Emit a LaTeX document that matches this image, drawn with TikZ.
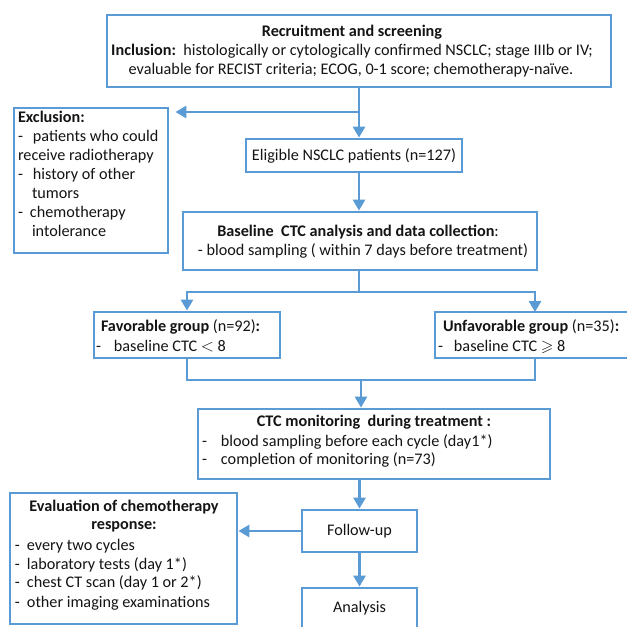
\documentclass[tikz,border=0pt]{standalone}
\usepackage{amssymb}
\usepackage{fontspec}
\setmainfont{Carlito}
\usetikzlibrary{arrows.meta}
\definecolor{flowblue}{HTML}{5B9BD5}
\definecolor{ink}{HTML}{141414}
\tikzset{
  box/.style={draw=flowblue, line width=2.8pt, fill=white, inner sep=0pt},
  conn/.style={draw=flowblue, line width=2.8pt, line join=miter},
  arr/.style={conn, -{Triangle[length=11pt,width=12pt]}},
  txt/.style={inner sep=0pt, outer sep=0pt, text=ink, font=\fontsize{16.2}{19}\selectfont},
  lt/.style={txt, anchor=base west},
  ct/.style={txt, anchor=base},
}
\newcommand{\dsh}[1]{\makebox[#1][l]{-}}
\begin{document}
\begin{tikzpicture}[x=1pt,y=-1pt]
\useasboundingbox (0,0) rectangle (627,627);
\clip (0,0) rectangle (627,627);
\fill[white] (0,0) rectangle (627,627);

% boxes
\node[box, minimum width=504pt, minimum height=72pt] (top) at (359,51) {};
\node[box, minimum width=154pt, minimum height=145pt] (excl) at (91,180.5) {};
\node[box, minimum width=216pt, minimum height=33pt] (elig) at (354,155.5) {};
\node[box, minimum width=354pt, minimum height=58pt] (base) at (360,241) {};
\node[box, minimum width=186pt, minimum height=46pt] (fav) at (187,335) {};
\node[box, minimum width=210pt, minimum height=46pt] (unfav) at (540,335) {};
\node[box, minimum width=352pt, minimum height=70pt] (ctc) at (374,444) {};
\node[box, minimum width=115pt, minimum height=42pt] (follow) at (359.5,531) {};
\node[box, minimum width=115pt, minimum height=57pt] (anal) at (359.5,616.5) {};
\node[box, minimum width=227pt, minimum height=131pt] (eval) at (123.5,558.5) {};

% texts
\node[ct] (t1) at (352,36.5) {\textbf{Recruitment and screening}};
\node[ct] (t2) at (352,55.5) {\textbf{Inclusion:}\ \ histologically or cytologically confirmed NSCLC; stage IIIb or IV;};
\node[ct] (t3) at (351,74.5) {evaluable for RECIST criteria; ECOG, 0-1 score; chemotherapy-naïve.};

\node[lt] (e1) at (18,122.5) {\textbf{Exclusion:}};
\node[lt] (e2) at (18,141.5) {\dsh{15pt}patients who could};
\node[lt] (e3) at (18,160.5) {receive radiotherapy};
\node[lt] (e4) at (18,179.5) {\dsh{15pt}history of other};
\node[lt] (e5) at (32,198.5) {tumors};
\node[lt] (e6) at (18,217.5) {\dsh{12pt}chemotherapy};
\node[lt] (e7) at (32,236.5) {intolerance};

\node[ct] (el) at (354,160.5) {Eligible NSCLC patients (n=127)};

\node[ct] (b1) at (358,236.5) {\textbf{Baseline\ \ CTC analysis and data collection}:};
\node[ct] (b2) at (363,255.5) {- blood sampling ( within 7 days before treatment)};

\node[lt] (f1) at (101,331.5) {\textbf{Favorable group} (n=92)\textbf{:}};
\node[lt] (f2) at (96,351.5) {\dsh{18pt}baseline CTC \(<\) 8};

\node[lt] (u1) at (443,331.5) {\textbf{Unfavorable group} (n=35)\textbf{:}};
\node[lt] (u2) at (438,351.5) {\dsh{16pt}baseline CTC \(\geqslant\) 8};

\node[ct] (c1) at (374,426.5) {\textbf{CTC monitoring\ \ during treatment :}};
\node[lt] (c2) at (202,446.5) {\dsh{19pt}blood sampling before each cycle (day1*)};
\node[lt] (c3) at (202,464.5) {\dsh{19pt}completion of monitoring (n=73)};

\node[ct] (fu) at (359.5,535.5) {Follow-up};
\node[ct] (an) at (359.5,612.5) {Analysis};

\node[ct] (v1) at (124,511.5) {\textbf{Evaluation of chemotherapy}};
\node[ct] (v2) at (124,529.5) {\textbf{response:}};
\node[lt] (v3) at (15,550.5) {\dsh{12pt}every two cycles};
\node[lt] (v4) at (15,569.5) {\dsh{12pt}laboratory tests (day 1*)};
\node[lt] (v5) at (15,587.5) {\dsh{12pt}chest CT scan (day 1 or 2*)};
\node[lt] (v6) at (15,607.5) {\dsh{12pt}other imaging examinations};

% connectors
\coordinate (jx) at (359,112);
\coordinate (br) at (359,292);
\coordinate (uin) at (535,312);
\coordinate (jn) at (361,380);

\draw[arr] (top.south) -- (elig.north -| top.south);
\draw[arr, shorten >=6pt] (jx) -- (excl.east |- jx);
\draw[arr] (elig.south -| top.south) -- (base.north -| top.south);
\draw[conn] (base.south -| br) -- (br);
\draw[arr] (br) -| (fav.north);
\draw[arr] (br) -| (uin);
\draw[conn] (fav.south) |- (jn) -| (unfav.south -| uin);
\draw[arr] (jn) -- (ctc.north -| jn);
\draw[arr] (follow.north |- ctc.south) -- (follow.north);
\draw[arr] (follow.south) -- (anal.north);
\draw[arr] (follow.west) -- (eval.east |- follow.west);
\end{tikzpicture}
\end{document}
